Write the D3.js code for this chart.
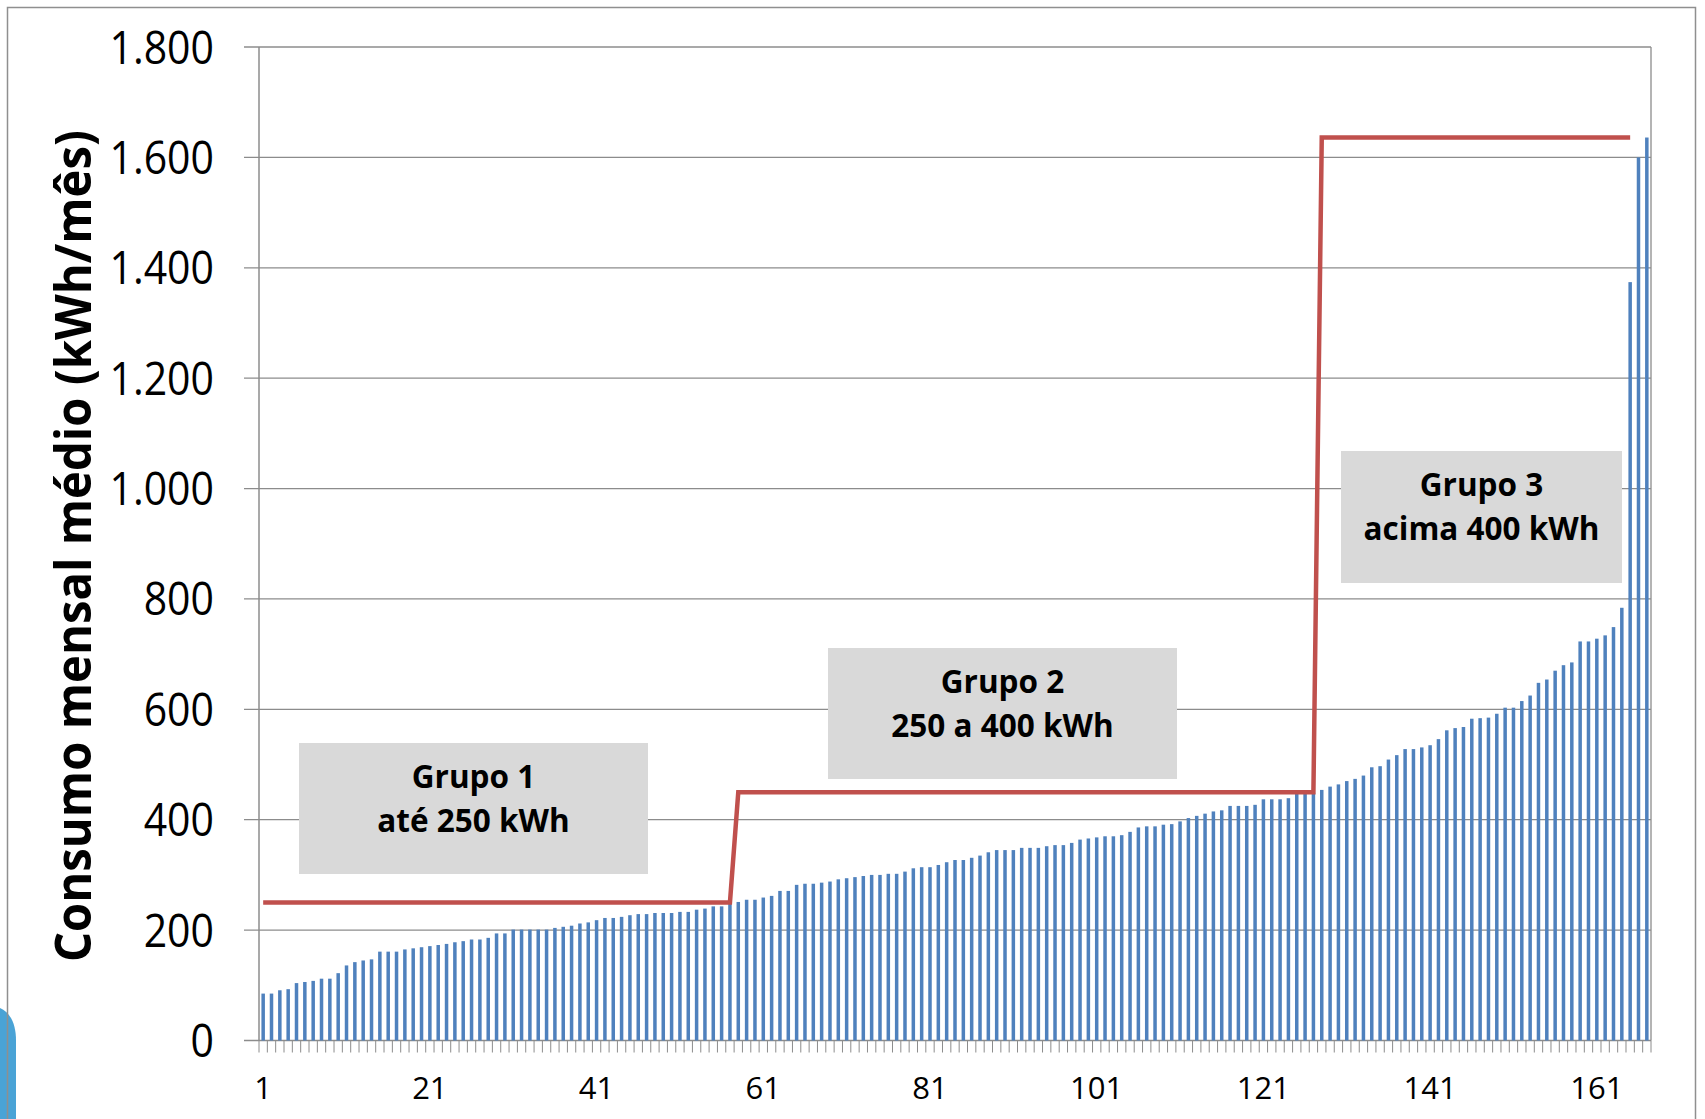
<!DOCTYPE html>
<html>
<head>
<meta charset="utf-8">
<script src="https://cdn.jsdelivr.net/npm/d3@7/dist/d3.min.js"></script>
<style>
  html, body { margin: 0; padding: 0; background: #fff; }
  svg { display: block; }
</style>
</head>
<body>
<div id="main"></div>
<script>
// consumo médio mensal de cada unidade, em ordem crescente (kWh/mês)
var consumo = [
  85, 85, 91, 93, 104, 106, 108, 112, 112, 122,
  136, 142, 145, 147, 161, 161, 161, 165, 167, 169,
  171, 173, 175, 178, 180, 183, 183, 186, 194, 194,
  201, 201, 201, 201, 201, 204, 206, 208, 212, 214,
  218, 222, 222, 224, 227, 229, 229, 231, 231, 231,
  233, 233, 237, 239, 243, 243, 249, 251, 255, 255,
  259, 262, 271, 271, 282, 284, 284, 286, 288, 292,
  294, 296, 298, 300, 300, 302, 302, 306, 312, 314,
  314, 318, 323, 327, 327, 331, 335, 341, 345, 345,
  345, 349, 349, 349, 352, 354, 354, 358, 364, 366,
  368, 370, 370, 372, 378, 386, 388, 388, 391, 392,
  397, 403, 407, 411, 415, 417, 425, 425, 425, 427,
  437, 437, 437, 439, 447, 447, 449, 454, 460, 464,
  470, 474, 480, 495, 497, 509, 517, 528, 528, 531,
  535, 546, 562, 566, 568, 583, 584, 585, 592, 603,
  603, 615, 625, 648, 654, 670, 680, 685, 723, 723,
  728, 734, 749, 784, 1374, 1600, 1636
];
var categorias = consumo.map(function(d, i) { return i + 1; });

// linha vermelha em degraus: nível e última unidade de cada faixa
var faixaNivel = [250, 450, 1636];
var faixaFim = [57, 127, 165];

var yTicks = [0, 200, 400, 600, 800, 1000, 1200, 1400, 1600, 1800];
var yTickLabels = ['0', '200', '400', '600', '800', '1.000', '1.200', '1.400', '1.600', '1.800'];
var xTicks = [1, 21, 41, 61, 81, 101, 121, 141, 161];

var grupoTitulo = ['Grupo 1', 'Grupo 2', 'Grupo 3'];
var grupoFaixa = ['até 250 kWh', '250 a 400 kWh', 'acima 400 kWh'];

var tituloY = 'Consumo mensal médio (kWh/mês)';

var W = 1705, H = 1119;
var pLeft = 259, pRight = 1651, pTop = 47, pBottom = 1040.5;

var svg = d3.select('#main').append('svg')
    .attr('width', W).attr('height', H);

svg.append('rect').attr('width', W).attr('height', H).attr('fill', '#fff');

// moldura do slide
svg.append('path')
    .attr('d', 'M0,1008 C10,1012 16,1024 16,1040 L16,1119 L0,1119 Z')
    .attr('fill', '#4aa3d6');
svg.append('rect')
    .attr('x', 7.5).attr('y', 7.5).attr('width', 1688).attr('height', 1130)
    .attr('fill', 'none').attr('stroke', '#8f8f8f').attr('stroke-width', 1.5);

var x = d3.scaleBand()
    .domain(categorias)
    .range([pLeft, pRight])
    .paddingInner(0.58)
    .paddingOuter(0.29);

var y = d3.scaleLinear().domain([0, 1800]).range([pBottom, pTop]);

// grades
svg.append('g').selectAll('line')
    .data(yTicks).join('line')
    .attr('x1', pLeft - 15).attr('x2', pRight)
    .attr('y1', function(d) { return y(d); }).attr('y2', function(d) { return y(d); })
    .attr('stroke', '#8c8c8c').attr('stroke-width', 1.3);

// eixo vertical e borda direita
svg.append('line').attr('x1', pLeft).attr('x2', pLeft).attr('y1', pTop).attr('y2', pBottom)
    .attr('stroke', '#8c8c8c').attr('stroke-width', 1.5);
svg.append('line').attr('x1', pRight).attr('x2', pRight).attr('y1', pTop).attr('y2', pBottom)
    .attr('stroke', '#8c8c8c').attr('stroke-width', 1.3);

// marcas do eixo x nas fronteiras das categorias
var fronteiras = categorias.map(function(c) { return x(c) - x.step() * x.paddingInner() / 2; });
fronteiras.push(pRight);
svg.append('g').selectAll('line')
    .data(fronteiras).join('line')
    .attr('x1', function(d) { return d; }).attr('x2', function(d) { return d; })
    .attr('y1', pBottom).attr('y2', pBottom + 12)
    .attr('stroke', '#8c8c8c').attr('stroke-width', 1);

// caixas dos grupos
var caixas = [
  { x0: 299, x1: 648, y0: 743, y1: 874 },
  { x0: 828, x1: 1177, y0: 648, y1: 779 },
  { x0: 1341, x1: 1622, y0: 451, y1: 583 }
];
var gCaixa = svg.append('g').selectAll('g')
    .data(caixas).join('g');
gCaixa.append('rect')
    .attr('x', function(d) { return d.x0; }).attr('y', function(d) { return d.y0; })
    .attr('width', function(d) { return d.x1 - d.x0; })
    .attr('height', function(d) { return d.y1 - d.y0; })
    .attr('fill', '#d9d9d9');
gCaixa.append('text')
    .attr('x', function(d) { return (d.x0 + d.x1) / 2; })
    .attr('y', function(d) { return d.y0 + 45; })
    .attr('text-anchor', 'middle')
    .style('font-family', '"Open Sans", sans-serif').style('font-weight', 700)
    .style('font-size', '31.5px').attr('fill', '#000')
    .text(function(d, i) { return grupoTitulo[i]; });
gCaixa.append('text')
    .attr('x', function(d) { return (d.x0 + d.x1) / 2; })
    .attr('y', function(d) { return d.y0 + 89; })
    .attr('text-anchor', 'middle')
    .style('font-family', '"Open Sans", sans-serif').style('font-weight', 700)
    .style('font-size', '31.5px').attr('fill', '#000')
    .text(function(d, i) { return grupoFaixa[i]; });

// barras
svg.append('g').selectAll('rect')
    .data(consumo).join('rect')
    .attr('x', function(d, i) { return x(categorias[i]); })
    .attr('width', x.bandwidth())
    .attr('y', function(d) { return y(d); })
    .attr('height', function(d) { return y(0) - y(d); })
    .attr('fill', '#4f81bd');

// linha dos limites
var linha = [];
categorias.forEach(function(c) {
  for (var k = 0; k < faixaFim.length; k++) {
    if (c <= faixaFim[k]) { linha.push({ c: c, v: faixaNivel[k] }); break; }
  }
});
svg.append('path')
    .datum(linha)
    .attr('fill', 'none')
    .attr('stroke', '#c0504d')
    .attr('stroke-width', 4.5)
    .attr('d', d3.line()
      .x(function(d) { return x(d.c) + x.bandwidth() / 2; })
      .y(function(d) { return y(d.v); }));

// rótulos do eixo y
svg.append('g').selectAll('text')
    .data(yTicks).join('text')
    .attr('transform', function(d) { return 'translate(214,' + y(d) + ') scale(1,1.12)'; })
    .attr('dy', '0.36em')
    .attr('text-anchor', 'end')
    .style('font-family', '"Open Sans", sans-serif')
    .style('font-size', '41px').attr('fill', '#000')
    .text(function(d, i) { return yTickLabels[i]; });

// rótulos do eixo x
svg.append('g').selectAll('text')
    .data(xTicks).join('text')
    .attr('x', function(d) { return x(d) + x.bandwidth() / 2; })
    .attr('y', 1099)
    .attr('text-anchor', 'middle')
    .style('font-family', '"Open Sans", sans-serif')
    .style('font-size', '31px').attr('fill', '#000')
    .text(function(d) { return d; });

// título do eixo y
svg.append('text')
    .attr('transform', 'translate(91,546) rotate(-90)')
    .attr('text-anchor', 'middle')
    .attr('textLength', 832).attr('lengthAdjust', 'spacingAndGlyphs')
    .style('font-family', '"Open Sans", sans-serif').style('font-weight', 700)
    .style('font-size', '50px').attr('fill', '#000')
    .text(tituloY);
</script>
</body>
</html>
